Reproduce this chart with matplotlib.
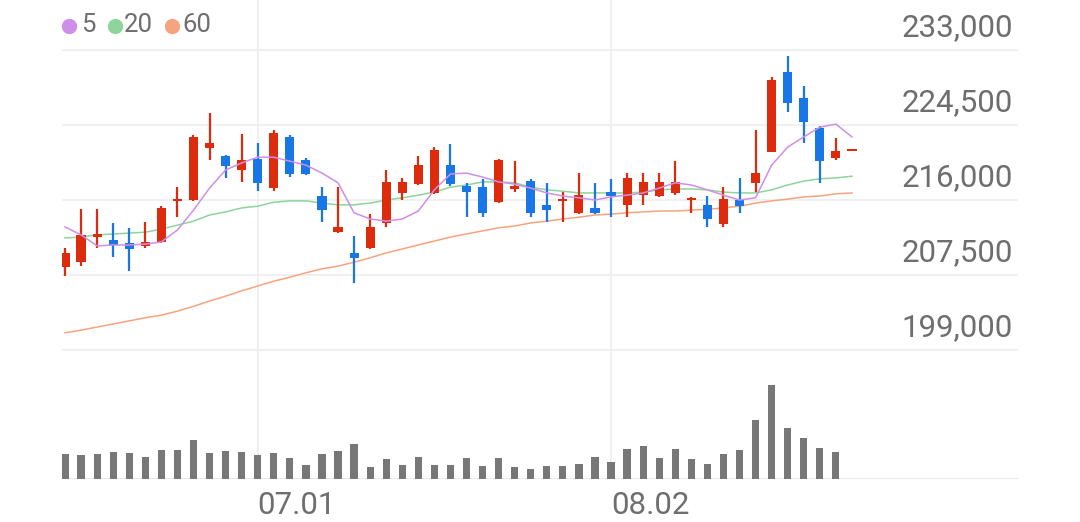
import numpy as np
import matplotlib
matplotlib.use('Agg')
import matplotlib.pyplot as plt
from matplotlib.lines import Line2D
from matplotlib.transforms import offset_copy

plt.rcParams['font.family'] = ['Roboto', 'DejaVu Sans']

# Daily candles (KRW)
opens = [208400, 208950, 211800, 211450, 211150, 210800, 211250, 215900, 216000, 221900,
         221000, 219400, 220650, 217350, 223150, 220550, 216450, 212350, 210000, 210550,
         213400, 216800, 217800, 216800, 219950, 217600, 217450, 215750, 217250, 218150,
         215450, 215900, 214550, 215100, 216900, 215450, 216550, 216450, 216800, 216000,
         215450, 213300, 216000, 217950, 221450, 230500, 227550, 224150, 220750, 221550]
highs = [210550, 215000, 215000, 213400, 212850, 213500, 215300, 217450, 223350, 225850,
         221100, 223500, 222450, 223950, 223350, 220750, 217450, 217450, 211900, 214400,
         219400, 218500, 221000, 222000, 222350, 217950, 218400, 220650, 220400, 218400,
         217950, 216900, 219050, 217950, 218400, 219050, 219050, 219050, 220400, 216350,
         216450, 217450, 218500, 223950, 229950, 232300, 228900, 224400, 223050, 221550]
lows = [207400, 208500, 210550, 209550, 207950, 210550, 211150, 214050, 215900, 220550,
        218500, 218050, 217000, 217000, 218600, 218850, 213500, 212250, 206600, 210450,
        212950, 216000, 217700, 216700, 217600, 214050, 214050, 215650, 216900, 214050,
        213500, 213500, 214400, 214400, 214050, 214050, 215450, 216350, 216550, 214550,
        212950, 212950, 214550, 216900, 221400, 225950, 222450, 217950, 220550, 221550]
closes = [210000, 212050, 212150, 210900, 210450, 211250, 215100, 216100, 223150, 222450,
          219850, 220550, 217950, 223600, 218950, 218950, 214850, 212950, 209450, 212950,
          218050, 218050, 219950, 221650, 217800, 216900, 214550, 220550, 217600, 214550,
          214850, 216100, 216550, 214550, 216450, 218500, 218050, 218050, 218050, 216250,
          213850, 216100, 215300, 219050, 229600, 227000, 224850, 220400, 221550, 221550]

# moving averages as drawn
ma5 = [212950, 212050, 210800, 210900, 210900, 211000, 211250, 212600, 214850, 217350,
       219400, 220200, 220850, 220850, 220400, 219950, 219050, 217950, 214550, 213850,
       213600, 213850, 214750, 217150, 218950, 219050, 218600, 218050, 217800, 217350,
       216800, 216450, 216250, 216000, 216350, 216550, 216800, 217350, 217950, 217700,
       217150, 216550, 216000, 216250, 219950, 222000, 223150, 224250, 224600, 223150]
ma20 = [211700, 211800, 212050, 212150, 212250, 212350, 212700, 213150, 213600, 214300,
        214650, 215100, 215300, 215750, 215900, 215900, 215650, 215450, 215450, 215650,
        216000, 216250, 216550, 216900, 217450, 217700, 218050, 218050, 217950, 217450,
        217150, 217000, 216800, 216800, 216800, 216800, 216900, 217150, 217250, 217250,
        217150, 216900, 216800, 216800, 217150, 217700, 218150, 218400, 218500, 218700]
ma60 = [200950, 201250, 201600, 201950, 202300, 202650, 202950, 203400, 203950, 204550,
        205100, 205700, 206250, 206800, 207250, 207750, 208200, 208500, 208950, 209450,
        210000, 210450, 210900, 211350, 211800, 212150, 212500, 212850, 213050, 213400,
        213600, 213850, 214050, 214300, 214400, 214550, 214650, 214750, 214750, 214850,
        214950, 215100, 215300, 215650, 215900, 216100, 216350, 216450, 216700, 216800]

volumes = [250, 240, 250, 270, 260, 220, 290, 290, 390, 260,
           280, 270, 240, 260, 210, 140, 250, 280, 350, 120,
           200, 140, 220, 140, 140, 210, 130, 210, 120, 100,
           130, 130, 150, 220, 170, 300, 330, 210, 300, 200,
           150, 250, 290, 590, 940, 510, 410, 310, 270, 0]  # thousand shares

price_ticks = [199000, 207500, 216000, 224500, 233000]
date_ticks = {12: '07.01', 34: '08.02'}

up_col = '#dd2b0e'
down_col = '#1876e6'
grid_col = '#eeeeee'
text_col = '#6e6e6e'

W, H = 1080, 522
fig = plt.figure(figsize=(W / 100, H / 100), dpi=100)

left, right = 62, 1018
ax = fig.add_axes([left / W, 1 - 355 / H, (right - left) / W, 355 / H])
axv = fig.add_axes([left / W, 1 - 479 / H, (right - left) / W, 124 / H], sharex=ax)

x = np.arange(len(closes))
step = 16.06
ax.set_xlim((left - 65) / step, (right - 65) / step)
ax.set_ylim(198433, 238667)

for a in (ax, axv):
    a.set_axis_off()
    for i in date_ticks:
        a.axvline(i, color=grid_col, lw=1.2, zorder=0)

for p in price_ticks:
    ax.axhline(p, color=grid_col, lw=1.2, zorder=0)

# wicks and bodies
cols = [up_col if c >= o else down_col for o, c in zip(opens, closes)]
ax.vlines(x, lows, highs, colors=cols, lw=1.6, zorder=2)
bottoms = [min(o, c) for o, c in zip(opens, closes)]
heights = [max(abs(c - o), 250) for o, c in zip(opens, closes)]
ax.bar(x, heights, bottom=bottoms, width=0.57, color=cols, zorder=3)

ax.plot(x, ma60, color='#f5a47f', lw=1.1, zorder=1)
ax.plot(x, ma20, color='#8fd49d', lw=1.1, zorder=1)
ax.plot(x, ma5, color='#cf8ee8', lw=1.1, zorder=4)

# price labels, right aligned just above grid lines
lab_tr = offset_copy(ax.get_yaxis_transform(), fig=fig, x=0, y=22, units='dots')
for p in price_ticks:
    ax.text((1013 - left) / (right - left), p, f'{p:,}', transform=lab_tr,
            ha='right', va='center', fontsize=22.5, color=text_col, zorder=5)

# volume
axv.bar(x, volumes, width=0.45, color='#777777', zorder=2)
axv.set_ylim(0, max(volumes) * 124 / 94)
axv.axhline(0, color='#e6e6e6', lw=1.2, zorder=1)

for i, lab in date_ticks.items():
    fig.text((left + (i * step + 65 - left)) / W, 1 - 505 / H, lab,
             ha='left', va='center', fontsize=22.5, color=text_col)

# legend
for cx, tx, lab, col in [(69, 81, '5', '#cf8ee8'), (115, 124, '20', '#8fd49d'),
                         (172, 182, '60', '#f5a47f')]:
    fig.add_artist(Line2D([cx / W], [1 - 26 / H], marker='o', ms=10, color=col,
                          transform=fig.transFigure))
    fig.text(tx / W, 1 - 25 / H, lab, ha='left', va='center', fontsize=18.5, color=text_col)

fig.savefig('out.png', dpi=100, facecolor='white')
